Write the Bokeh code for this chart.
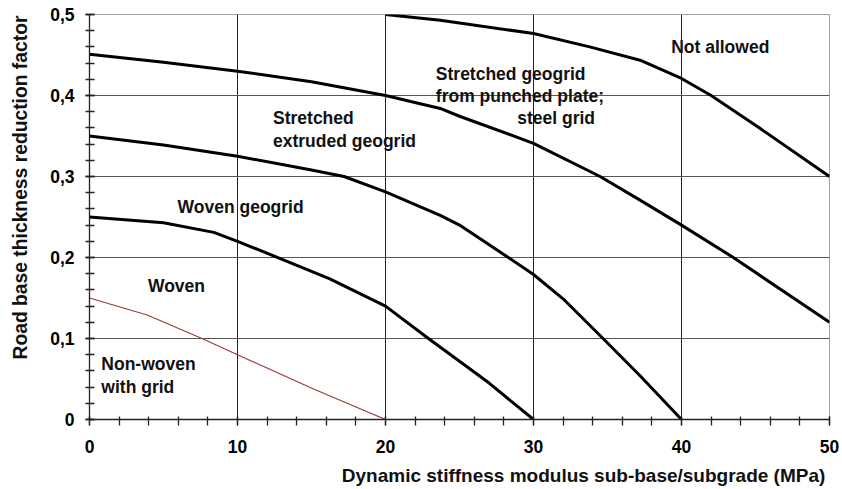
from bokeh.plotting import figure
from bokeh.models import FixedTicker, Range1d, ColumnDataSource
from bokeh.embed import file_html
from bokeh.resources import INLINE
from bokeh.core.properties import value

FONT = "Liberation Sans"
NBSP = "\u00a0"

# ---- axis ticks / labels ----
x_ticks = [0, 10, 20, 30, 40, 50]
x_tick_labels = ["0", "10", "20", "30", "40", "50"]
y_ticks = [0, 0.1, 0.2, 0.3, 0.4, 0.5]
y_tick_labels = ["0", "0,1", "0,2", "0,3", "0,4", "0,5"]
x_title = "Dynamic stiffness modulus sub-base/subgrade (MPa)"
y_title = "Road base thickness reduction factor"

# ---- boundary curves ----
not_allowed_x = [20, 23.7, 30, 33.8, 37.2, 40, 42, 45.1, 50]
not_allowed_y = [0.5, 0.493, 0.4765, 0.46, 0.4436, 0.421, 0.40, 0.362, 0.30]

stretched_plate_x = [0, 5, 10, 15, 20, 23.7, 25, 30, 34.5, 37, 40, 43.5, 50]
stretched_plate_y = [0.451, 0.441, 0.430, 0.417, 0.400, 0.384, 0.3744, 0.341, 0.300, 0.273, 0.240, 0.200, 0.120]

extruded_x = [0, 5, 10, 15, 17.2, 20, 23.7, 25, 28.3, 30, 32, 34.7, 37.2, 40]
extruded_y = [0.350, 0.339, 0.325, 0.308, 0.300, 0.281, 0.252, 0.240, 0.200, 0.179, 0.149, 0.100, 0.054, 0.0]

woven_geogrid_x = [0, 5, 8.4, 10, 12.85, 16.2, 20, 22.9, 25, 27, 30]
woven_geogrid_y = [0.250, 0.243, 0.231, 0.220, 0.199, 0.174, 0.140, 0.100, 0.072, 0.045, 0.0]

woven_x = [0, 3.9, 7.6, 10, 15.1, 20]
woven_y = [0.150, 0.129, 0.100, 0.080, 0.038, 0.0]

# ---- region labels ----
region_text = ["Not allowed", "Stretched geogrid", "from punched plate;", "steel grid",
               "Stretched", "extruded geogrid", "Woven geogrid", "Woven",
               "Non-woven", "with grid"]
region_x = [39.3, 23.4, 23.4, 28.9, 12.4, 12.4, 5.95, 3.95, 0.8, 0.8]
region_y = [0.460, 0.426, 0.399, 0.372, 0.372, 0.344, 0.2625, 0.1646, 0.068, 0.040]

p = figure(width=842, height=489, output_backend="svg", toolbar_location=None,
           x_range=Range1d(0, 50), y_range=Range1d(0, 0.5),
           min_border_left=89, min_border_right=13, min_border_top=14, min_border_bottom=70)
p.background_fill_color = "white"
p.border_fill_color = "white"
p.outline_line_color = "#a0a0a0"
p.outline_line_width = 1

# grid
p.xgrid.grid_line_color = "#222222"
p.ygrid.grid_line_color = "#555555"
p.xgrid.grid_line_width = 1
p.ygrid.grid_line_width = 1

# axes
p.xaxis.ticker = FixedTicker(ticks=x_ticks, minor_ticks=[i * 2 for i in range(26)])
p.xaxis.major_label_overrides = dict(zip(x_ticks, x_tick_labels))
p.yaxis.ticker = FixedTicker(ticks=y_ticks, minor_ticks=[i * 0.02 for i in range(26)])
p.yaxis.major_label_overrides = dict(zip(y_ticks, y_tick_labels))

for ax in (p.xaxis[0], p.yaxis[0]):
    ax.axis_line_color = "#222222"
    ax.axis_line_width = 1.3
    ax.major_tick_line_color = "#222222"
    ax.minor_tick_line_color = "#222222"
    ax.major_tick_line_width = 1.3
    ax.minor_tick_line_width = 1.3
    ax.major_label_text_font = FONT
    ax.major_label_text_font_style = "bold"
    ax.major_label_text_font_size = "17.5px"
    ax.major_label_text_color = "black"

p.xaxis.major_tick_in = 3
p.xaxis.major_tick_out = 6
p.xaxis.minor_tick_in = 3
p.xaxis.minor_tick_out = 6
p.xaxis.major_label_standoff = 14
p.yaxis.major_tick_in = 5
p.yaxis.major_tick_out = 4
p.yaxis.minor_tick_in = 5
p.yaxis.minor_tick_out = 4
p.yaxis.major_label_standoff = 11

# axis titles: in the reference they sit off-centre, toward the far end of each
# axis; leading non-breaking spaces shift the centred label there.
xa, ya = p.xaxis[0], p.yaxis[0]
xa.axis_label = NBSP * 47 + x_title
xa.axis_label_standoff = 9
xa.axis_label_text_font = FONT
xa.axis_label_text_font_size = "19px"
xa.axis_label_text_font_style = "bold"
xa.axis_label_text_color = "#111111"
ya.axis_label = NBSP * 11 + y_title
ya.axis_label_standoff = 16
ya.axis_label_text_font = FONT
ya.axis_label_text_font_size = "19.3px"
ya.axis_label_text_font_style = "bold"
ya.axis_label_text_color = "#111111"

# curves
for xs, ys in [(not_allowed_x, not_allowed_y), (stretched_plate_x, stretched_plate_y),
               (extruded_x, extruded_y), (woven_geogrid_x, woven_geogrid_y)]:
    p.line(xs, ys, line_color="black", line_width=3, line_join="round")
p.line(woven_x, woven_y, line_color="#9b3b3b", line_width=1.2)

src = ColumnDataSource(dict(x=region_x, y=region_y, text=region_text))
p.text(x="x", y="y", text="text", source=src, text_font=value(FONT), text_font_size="17.5px",
       text_font_style="bold", text_color="#111111", text_baseline="alphabetic", text_align="left")

open("out.html", "w").write(file_html(p, INLINE))
